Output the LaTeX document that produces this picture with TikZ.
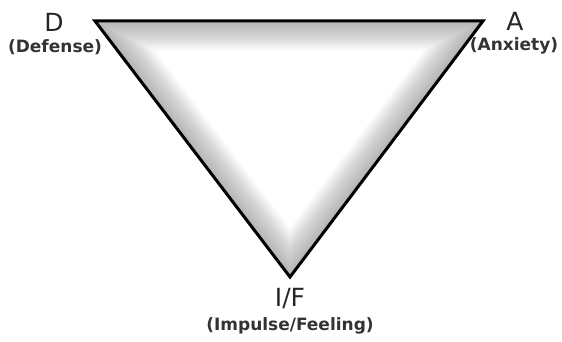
\documentclass[tikz,border=0pt]{standalone}
\usepackage{fontspec}
\setmainfont{DejaVu Sans}
\begin{document}
\begin{tikzpicture}[x=1pt,y=-1pt,
  big/.style={font=\fontsize{25}{27}\selectfont, inner sep=0pt, text=black!85},
  small/.style={font=\bfseries\fontsize{17}{19}\selectfont, inner sep=0pt, text=black!80},
  glow/.style={draw=black!50, opacity=0.025, line join=round}]
\useasboundingbox (0,0) rectangle (562,342);
\coordinate (d) at (95,21);
\coordinate (a) at (483,21);
\coordinate (f) at (290,277);
\begin{scope}
\clip (d) -- (a) -- (f) -- cycle;
\fill[white] (d) -- (a) -- (f) -- cycle;
\foreach \w in {2,4,...,60} {
  \draw[glow, line width=\w pt] (d) -- (a) -- (f) -- cycle;
}
\end{scope}
\draw[line width=3pt, line join=miter] (d) -- (a) -- (f) -- cycle;
\node[big] (dl) at (54,22) {D};
\node[small] (dd) at (55,47) {(Defense)};
\node[big] (al) at (515,21) {A};
\node[small] (ad) at (514,46) {(Anxiety)};
\node[big] (fl) at (290,299) {I/F};
\node[small] (fd) at (290,326) {(Impulse/Feeling)};
\end{tikzpicture}
\end{document}
